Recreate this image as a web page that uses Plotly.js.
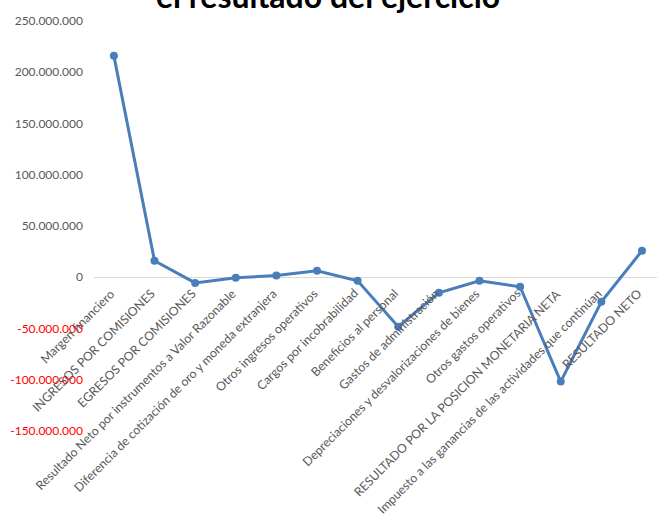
<!DOCTYPE html>
<html>
<head>
<meta charset="utf-8">
<script src="https://cdn.plot.ly/plotly-3.0.1.min.js"></script>
<style>html,body{margin:0;padding:0;background:#fff;}#chart{width:657px;height:519px;}</style>
</head>
<body>
<div id="chart"></div>
<script>
const categories = [
  "Margen financiero",
  "INGRESOS POR COMISIONES",
  "EGRESOS POR COMISIONES",
  "Resultado Neto por instrumentos a Valor Razonable",
  "Diferencia de cotización de oro y moneda extranjera",
  "Otros ingresos operativos",
  "Cargos por incobrabilidad",
  "Beneficios al personal",
  "Gastos de administración",
  "Depreciaciones y desvalorizaciones de bienes",
  "Otros gastos operativos",
  "RESULTADO POR LA POSICION MONETARIA NETA",
  "Impuesto a las ganancias de las actividades que continúan",
  "RESULTADO NETO"
];
const values = [216000000, 16000000, -5500000, -500000, 1600000, 6300000, -3400000,
  -48200000, -15100000, -3400000, -9300000, -101800000, -23900000, 25800000];
const tickVals = [250000000, 200000000, 150000000, 100000000, 50000000, 0,
  -50000000, -100000000, -150000000];
const tickLabels = ["250.000.000", "200.000.000", "150.000.000", "100.000.000", "50.000.000", "0",
  "-50.000.000", "-100.000.000", "-150.000.000"];
const chartTitle = "el resultado del ejercicio";

const idx = categories.map((c, i) => i);
const tickText = tickLabels.map((t, i) =>
  tickVals[i] < 0 ? '<span style="fill:#FF0000">' + t + '</span>' : t);

const trace = {
  x: idx, y: values, type: 'scatter', mode: 'lines+markers',
  line: {color: '#4A7EBB', width: 3},
  marker: {color: '#4A7EBB', size: 8},
  hoverinfo: 'skip'
};

const annotations = categories.map((c, i) => ({
  x: i, y: 0, xref: 'x', yref: 'y', text: c, showarrow: false,
  textangle: -45, xanchor: 'right', yanchor: 'top',
  xshift: 6, yshift: -6,
  font: {family: 'Lato, sans-serif', size: 12.3, color: '#595959'}
}));
annotations.push({
  xref: 'paper', yref: 'paper', x: (328-94)/563, y: 1, yshift: 4,
  xanchor: 'center', yanchor: 'bottom', showarrow: false,
  text: '<b>' + chartTitle + '</b>',
  font: {family: 'Lato, sans-serif', size: 32, color: '#000000'}
});

const layout = {
  width: 657, height: 519,
  margin: {l: 94, r: 0, t: 21, b: 88},
  paper_bgcolor: '#ffffff', plot_bgcolor: '#ffffff',
  showlegend: false,
  separators: ',.',
  xaxis: {
    range: [-0.49, 13.37], showticklabels: false, showgrid: false,
    zeroline: false, showline: false, ticks: ''
  },
  yaxis: {
    range: [-150000000, 250000000], tickmode: 'array',
    tickvals: tickVals, ticktext: tickText,
    showgrid: false, zeroline: true, zerolinecolor: '#D9D9D9', zerolinewidth: 1,
    showline: false, ticks: '', ticklabelstandoff: 10,
    tickfont: {family: 'Lato, sans-serif', size: 12, color: '#595959'}
  },
  annotations: annotations
};

Plotly.newPlot('chart', [trace], layout, {displayModeBar: false, staticPlot: true});
</script>
</body>
</html>
